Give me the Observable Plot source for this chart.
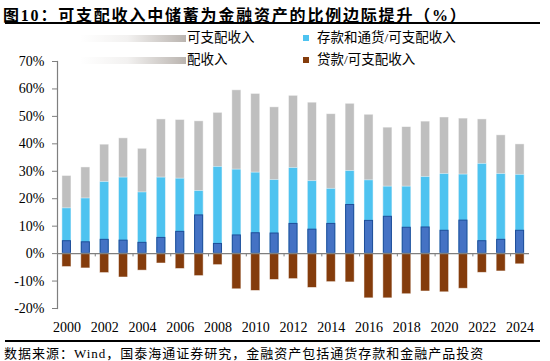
<!DOCTYPE html>
<html><head><meta charset="utf-8">
<script src="https://cdn.jsdelivr.net/npm/d3@7"></script>
<script src="https://cdn.jsdelivr.net/npm/@observablehq/plot@0.6"></script>
<style>
body{margin:0;background:#fff;}
#wrap{position:relative;width:550px;height:361px;overflow:hidden;font-family:"Liberation Serif","Noto Sans CJK SC",serif;color:#000;}
#title{position:absolute;left:3px;top:2px;font-size:16px;font-weight:bold;letter-spacing:1.8px;white-space:nowrap;}
.hline{position:absolute;left:5px;width:535px;height:2px;background:#000;}
.leg{position:absolute;font-size:13.5px;white-space:nowrap;line-height:16px;}
.fade{position:absolute;height:7px;background:linear-gradient(to right,rgba(150,140,132,0),rgba(150,140,132,0.12) 45%,rgba(140,130,122,0.6));}
.sw{display:inline-block;width:6px;height:6px;margin-right:8px;vertical-align:1px;}
#chart{position:absolute;left:0;top:28px;}
#src{position:absolute;left:4px;top:343px;font-size:13px;letter-spacing:1px;white-space:nowrap;}
</style></head>
<body>
<div id="wrap">
  <div id="title">图10：可支配收入中储蓄为金融资产的比例边际提升（%）</div>
  <div class="hline" style="top:22px"></div>
  <div class="fade" style="left:80px;top:35px;width:106px"></div>
  <div class="leg" style="left:187px;top:30px">可支配收入</div>
  <div class="leg" style="left:303px;top:30px"><span class="sw" style="background:#4EC3F0"></span>存款和通货/可支配收入</div>
  <div class="fade" style="left:80px;top:57px;width:106px"></div>
  <div class="leg" style="left:187px;top:52px">配收入</div>
  <div class="leg" style="left:303px;top:52px"><span class="sw" style="background:#843C0C"></span>贷款/可支配收入</div>
  <div id="chart"></div>
  <div class="hline" style="top:340px"></div>
  <div id="src">数据来源：Wind，国泰海通证券研究，金融资产包括通货存款和金融产品投资</div>
</div>
<script>
const years = [2000,2001,2002,2003,2004,2005,2006,2007,2008,2009,2010,2011,2012,2013,2014,2015,2016,2017,2018,2019,2020,2021,2022,2023,2024];
const labelYears = [2000,2002,2004,2006,2008,2010,2012,2014,2016,2018,2020,2022,2024];
const tickYears = [2001,2003,2005,2007,2009,2011,2013,2015,2017,2019,2021,2023];
const totalShare = [28.3,31.4,39.7,42.0,38.2,48.9,48.7,48.2,51.3,59.5,58.2,53.3,57.5,55.0,50.8,54.6,50.6,45.9,46.1,48.1,49.6,49.2,48.9,43.1,39.8];
const depositShare = [16.5,20.1,26.1,27.7,22.3,27.7,27.3,22.8,31.6,30.6,29.5,26.8,31.2,26.4,23.6,30.1,26.7,24.4,24.4,27.9,29.0,28.8,32.7,29.0,28.7];
const productShare = [4.7,4.3,5.2,4.9,4.1,5.9,8.1,14.1,3.7,6.8,7.6,7.5,11.0,8.9,11.0,17.9,12.1,13.6,9.6,9.7,8.5,12.2,4.7,5.2,8.5];
const loanShare = [-4.9,-5.4,-7.1,-8.7,-6.2,-3.6,-5.6,-8.2,-4.2,-13.0,-13.6,-9.6,-9.3,-12.5,-10.4,-10.5,-16.3,-16.3,-14.8,-13.8,-14.1,-12.8,-7.0,-6.5,-3.9];
const yTicks = [-20,-10,0,10,20,30,40,50,60,70];

const rows = years.map((y,i)=>({year:y,total:totalShare[i],deposit:depositShare[i],product:productShare[i],loan:loanShare[i]}));
const step = (550-57-21)/years.length;

const chart = Plot.plot({
  width:550, height:310,
  marginTop:33, marginBottom:30, marginLeft:57, marginRight:21,
  style:{fontFamily:"'Liberation Serif', serif", fontSize:"14px", color:"#000", background:"transparent"},
  x:{type:"band", domain:years, paddingInner:0.52, paddingOuter:0.26, round:false, label:null},
  y:{domain:[-20,70], label:null},
  marks:[
    Plot.barY(rows,{x:"year", y1:0, y2:"total", fill:"#BFBFBF", stroke:"#fff", strokeOpacity:0.6, strokeWidth:0.8}),
    Plot.barY(rows,{x:"year", y1:0, y2:"deposit", fill:"#4EC3F0", stroke:"#fff", strokeOpacity:0.6, strokeWidth:0.8}),
    Plot.barY(rows,{x:"year", y1:0, y2:"product", fill:"#4472C4", stroke:"#1F4E9A", strokeWidth:1, inset:0.5}),
    Plot.barY(rows,{x:"year", y1:0, y2:"loan", fill:"#843C0C", stroke:"#fff", strokeOpacity:0.6, strokeWidth:0.8}),
    Plot.ruleY([0],{stroke:"#7f7f7f", strokeWidth:1.2}),
    Plot.ruleX(tickYears,{x:d=>d, y1:0, y2:-1.2, dx:step/2, stroke:"#7f7f7f"}),
    Plot.frame({anchor:"left", stroke:"#7f7f7f", strokeWidth:1.2}),
    Plot.axisY({ticks:yTicks, tickSize:5, tickPadding:8, tickFormat:d=>d+"%", stroke:"#7f7f7f", fontSize:14, label:null}),
    Plot.axisX({ticks:labelYears, tickSize:0, tickPadding:14, tickFormat:d=>String(d), fontSize:14, label:null})
  ]
});
document.getElementById("chart").appendChild(chart);
</script>
</body></html>
